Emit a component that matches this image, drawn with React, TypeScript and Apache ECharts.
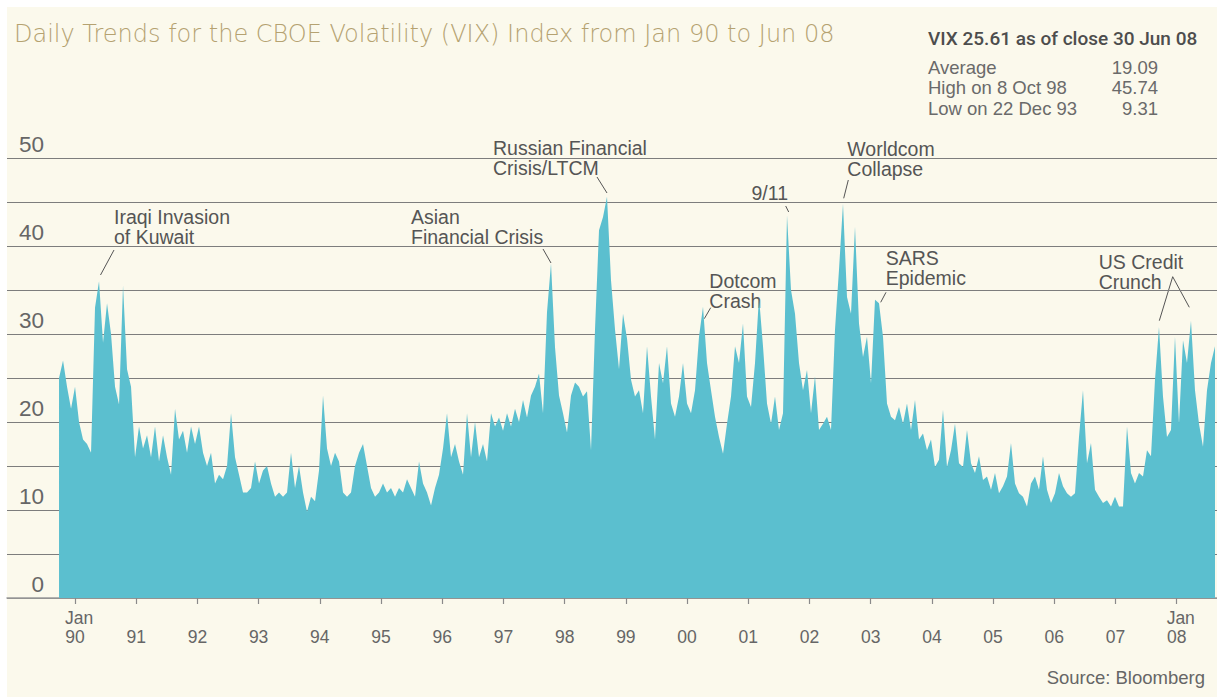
import React, { useEffect, useRef } from 'react';
import * as echarts from 'echarts';

// VIX index, one sample roughly every 3.4 weeks (axis position in years)
const firstSampleYear = 1989.739;
const sampleStepYears = 0.06535;
const vixValues = [
  25.0, 27.0, 24.0, 21.5, 24.0, 20.0, 18.0, 17.5, 16.5, 33.0,
  36.0, 29.0, 33.5, 30.0, 24.0, 22.0, 35.5, 26.0, 24.0, 16.0,
  19.5, 17.0, 18.5, 16.0, 19.5, 15.5, 18.5, 16.0, 14.0, 21.5,
  18.0, 19.0, 16.5, 19.5, 17.5, 19.5, 16.5, 15.0, 16.5, 13.0,
  14.0, 13.5, 15.0, 21.0, 16.0, 14.0, 12.0, 12.0, 12.5, 15.5,
  13.0, 14.5, 15.0, 13.0, 11.5, 12.0, 11.5, 12.0, 16.5, 12.5,
  15.0, 12.0, 9.8, 11.5, 11.0, 14.5, 23.0, 17.0, 15.0, 16.5,
  15.5, 12.0, 11.5, 12.0, 15.0, 16.5, 17.5, 15.0, 12.5, 11.5,
  12.0, 13.0, 12.0, 12.5, 11.5, 12.5, 12.0, 13.5, 12.5, 11.5,
  15.5, 13.0, 12.0, 10.5, 12.5, 14.0, 17.0, 21.0, 16.0, 17.5,
  15.5, 14.0, 21.0, 16.0, 20.0, 16.0, 17.5, 15.5, 21.0, 19.5,
  20.5, 19.0, 21.0, 19.5, 21.5, 20.0, 22.5, 20.5, 23.0, 24.0,
  25.5, 21.0, 32.5, 38.0, 28.5, 23.0, 21.0, 18.8, 23.0, 24.5,
  24.0, 22.9, 23.5, 16.8, 30.5, 41.8, 43.3, 45.6, 36.1, 30.5,
  26.0, 32.3, 29.5, 24.8, 22.9, 23.6, 21.0, 28.6, 22.9, 18.0,
  26.7, 24.4, 28.6, 22.1, 20.6, 22.9, 26.7, 22.1, 21.0, 23.6,
  29.7, 33.1, 26.7, 23.6, 20.6, 18.3, 16.4, 19.8, 22.9, 28.6,
  26.7, 31.2, 22.9, 21.7, 26.7, 34.2, 28.6, 22.1, 19.8, 22.9,
  19.1, 21.0, 43.5, 35.0, 32.3, 26.7, 23.6, 25.9, 21.0, 25.2,
  19.1, 19.8, 20.6, 19.1, 30.5, 37.3, 44.8, 34.2, 32.3, 42.2,
  31.2, 27.4, 29.7, 24.4, 33.9, 33.5, 29.7, 22.1, 20.6, 20.2,
  21.7, 19.8, 22.1, 19.1, 22.5, 18.0, 18.7, 16.8, 18.0, 14.9,
  15.7, 21.4, 14.9, 16.8, 19.8, 15.3, 14.9, 19.1, 15.3, 14.2,
  16.1, 13.4, 13.8, 12.3, 14.2, 11.9, 12.7, 13.8, 17.6, 13.0,
  11.9, 11.5, 10.4, 13.0, 13.8, 12.3, 16.1, 12.3, 10.8, 11.9,
  14.2, 12.7, 11.9, 11.5, 11.9, 18.3, 23.6, 15.3, 17.6, 12.3,
  11.5, 10.8, 11.1, 10.4, 11.5, 10.4, 10.4, 19.5, 14.2, 13.0,
  14.2, 13.8, 16.8, 16.1, 24.8, 30.8, 22.9, 18.3, 19.1, 29.7,
  19.8, 29.3, 26.7, 31.5, 23.6, 19.8, 17.2, 23.6, 26.7, 28.6,
];

const yearTicks = [1990, 1991, 1992, 1993, 1994, 1995, 1996, 1997, 1998, 1999, 2000, 2001, 2002, 2003, 2004, 2005, 2006, 2007, 2008];
const yearLabels = ['90', '91', '92', '93', '94', '95', '96', '97', '98', '99', '00', '01', '02', '03', '04', '05', '06', '07', '08'];

const titleText = 'Daily Trends for the CBOE Volatility (VIX) Index from Jan 90 to Jun 08';
const statsHeader = 'VIX 25.61 as of close 30 Jun 08';
const statsLabels = ['Average', 'High on 8 Oct 98', 'Low on 22 Dec 93'];
const statsValues = ['19.09', '45.74', '9.31'];

const annotations = [
  { text: 'Iraqi Invasion\nof Kuwait', x: 114, y: 206.5, line: [[114, 250], [100.5, 275]] },
  { text: 'Asian\nFinancial Crisis', x: 411, y: 206.5, line: [[543, 249], [551, 263]] },
  { text: 'Russian Financial\nCrisis/LTCM', x: 493, y: 138.2, line: [[597, 177], [607, 193]] },
  { text: '9/11', x: 751.5, y: 183.2, line: [[785.7, 206], [788.7, 212]] },
  { text: 'Dotcom\nCrash', x: 709.3, y: 270.5, line: [[710.7, 307.7], [704.3, 318.7]] },
  { text: 'Worldcom\nCollapse', x: 847.3, y: 138.9, line: [[848.3, 180], [843.7, 198.3]] },
  { text: 'SARS\nEpidemic', x: 885.7, y: 248.2, line: [[886, 292.3], [880.7, 302.3]] },
  { text: 'US Credit\nCrunch', x: 1098.7, y: 251.5, line: [[1159.3, 320.7], [1172.7, 276.7], [1189.3, 307.3]] },
];

const FONT = '"Liberation Sans", Arial, Helvetica, sans-serif';

export default function App() {
  const ref = useRef<HTMLDivElement>(null);

  useEffect(() => {
    if (!ref.current) return;
    const chart = echarts.init(ref.current, undefined, { renderer: 'svg' });
    const data = vixValues.map((v, i) => [firstSampleYear + i * sampleStepYears, v]);

    const txt = (x: number, y: number, text: string, opts: any = {}) => ({
      type: 'text',
      x,
      y,
      silent: true,
      style: {
        text,
        fontFamily: FONT,
        fontSize: 19,
        fill: '#555555',
        align: 'left',
        textAlign: 'left',
        verticalAlign: 'middle',
        textVerticalAlign: 'middle',
        ...opts,
      },
    });

    const graphics: any[] = [];
    graphics.push(
      txt(14, 34, titleText, { fontSize: 24, fontFamily: '"DejaVu Sans", "Liberation Sans", sans-serif', fontWeight: 200, fill: '#b5a271' })
    );
    graphics.push(
      txt(928, 38, statsHeader, { fontSize: 19, fontFamily: 'Roboto, "Liberation Sans", sans-serif', fontWeight: 500, fill: '#4d4d4d' })
    );
    const rowY = [67, 87.5, 108];
    statsLabels.forEach((s, i) => {
      graphics.push(txt(928, rowY[i], s, { fontSize: 18.5, fill: '#6a6a6a' }));
      graphics.push(
        txt(1158, rowY[i], statsValues[i], { fontSize: 18.5, fill: '#6a6a6a', align: 'right', textAlign: 'right' })
      );
    });
    annotations.forEach((a) => {
      graphics.push(
        txt(a.x, a.y, a.text, {
          fontSize: 19.5,
          lineHeight: 20,
          fill: '#555555',
          verticalAlign: 'top',
          textVerticalAlign: 'top',
        })
      );
      graphics.push({
        type: 'polyline',
        silent: true,
        shape: { points: a.line },
        style: { stroke: '#555555', lineWidth: 1, fill: 'none' },
      });
    });
    graphics.push(
      txt(1205, 677, 'Source: Bloomberg', { fontSize: 18.5, fill: '#666666', align: 'right', textAlign: 'right' })
    );

    const labelFormatter = (val: number) => {
      const i = yearTicks.indexOf(Math.round(val));
      const lab = i >= 0 ? yearLabels[i] : '';
      if (i === 0 || i === yearTicks.length - 1) return `{j|Jan}\n{y|${lab}}`;
      return `{b| }\n{y|${lab}}`;
    };
    const richBase = { fontFamily: FONT, fontSize: 17.5, color: '#666666', lineHeight: 18.5 };

    chart.setOption({
      animation: false,
      backgroundColor: 'transparent',
      textStyle: { fontFamily: FONT },
      grid: { left: 7, right: 0, top: 158, bottom: 99, containLabel: false },
      xAxis: {
        type: 'value',
        min: 1988.889,
        max: 2008.658,
        axisLine: { show: true, onZero: false, lineStyle: { color: '#9a9a9a', width: 1.5 } },
        axisTick: { show: true, customValues: yearTicks, length: 6, lineStyle: { color: '#8a8a8a', width: 1.2 } },
        axisLabel: {
          customValues: yearTicks,
          margin: 11,
          formatter: labelFormatter,
          color: '#666666',
          fontFamily: FONT,
          fontSize: 17.5,
          lineHeight: 18.5,
          rich: {
            j: { ...richBase, align: 'left', padding: [0, 0, 0, 8] },
            y: { ...richBase, align: 'center' },
            b: { ...richBase, align: 'center' },
          },
        },
        splitLine: { show: false },
      },
      yAxis: {
        type: 'value',
        min: 0,
        max: 50,
        interval: 5,
        axisLine: { show: false },
        axisTick: { show: false },
        axisLabel: {
          inside: true,
          margin: 37,
          align: 'right',
          verticalAlign: 'bottom',
          padding: [0, 0, 2, 0],
          formatter: (v: number) => (v % 10 === 0 ? String(v) : ''),
          fontFamily: FONT,
          fontSize: 22.5,
          color: '#666666',
        },
        splitLine: { show: true, lineStyle: { color: '#7d7d7d', width: 1.2 } },
      },
      series: [
        {
          type: 'line',
          data,
          symbol: 'none',
          showSymbol: false,
          silent: true,
          lineStyle: { width: 0, opacity: 0 },
          areaStyle: { color: '#5bbfcf', opacity: 1 },
          z: 2,
        },
      ],
      graphic: graphics,
    });

    return () => chart.dispose();
  }, []);

  return (
    <div style={{ position: 'fixed', left: 0, top: 0, width: 1217, height: 697, background: '#ffffff', overflow: 'hidden' }}>
      <div style={{ position: 'absolute', left: 7, top: 7, width: 1210, height: 690, background: '#fbf9ec' }} />
      <div ref={ref} style={{ position: 'absolute', left: 0, top: 0, width: 1217, height: 697 }} />
    </div>
  );
}
